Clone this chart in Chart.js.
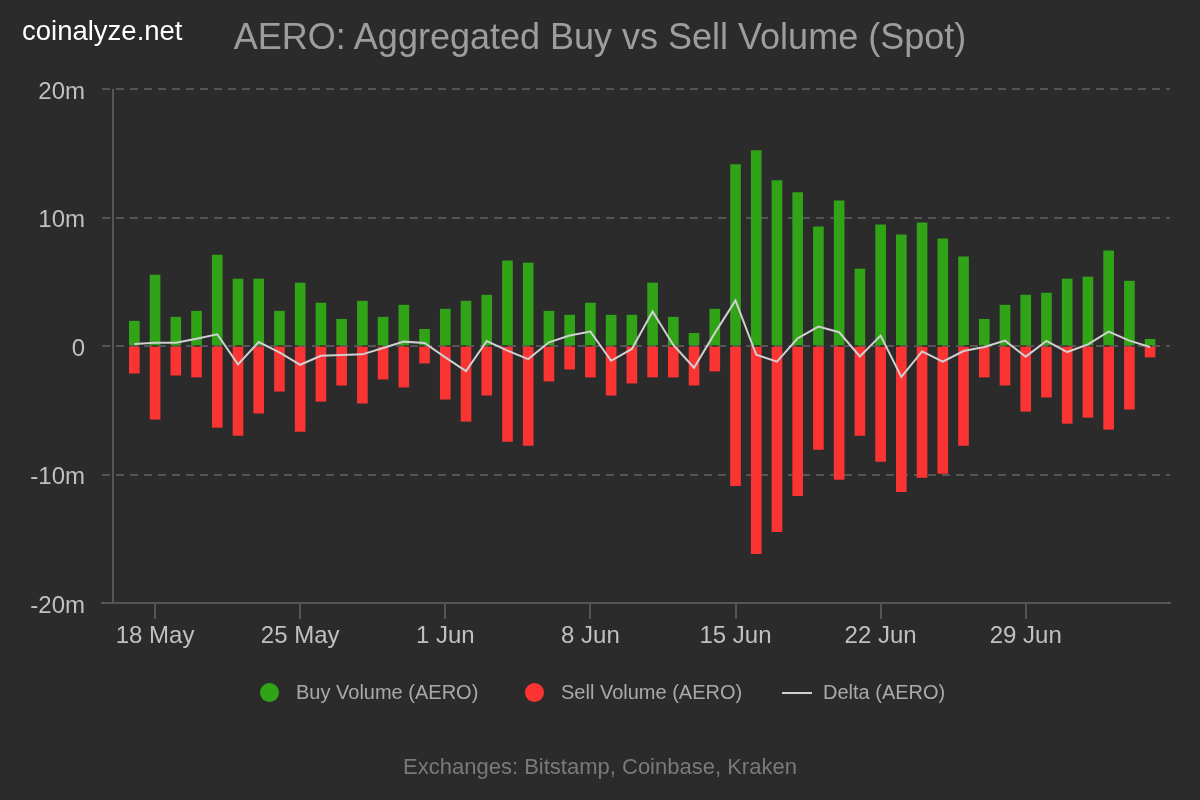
<!DOCTYPE html>
<html>
<head>
<meta charset="utf-8">
<script src="https://cdn.jsdelivr.net/npm/chart.js@4.4.1/dist/chart.umd.min.js"></script>
<style>
  html, body { margin: 0; padding: 0; background: #2b2b2b; }
  #wrap { position: relative; width: 1200px; height: 800px; background: #2b2b2b; overflow: hidden; font-family: "Liberation Sans", Arial, sans-serif; }
  #c { position: absolute; left: 0; top: 0; }
  .txt { position: absolute; white-space: nowrap; }
  #logo { left: 22px; top: 15px; font-size: 27.5px; color: #ffffff; }
  #title { left: 0; width: 1200px; text-align: center; top: 16px; font-size: 36px; color: #9d9d9d; }
  #footer { left: 0; width: 1200px; text-align: center; top: 754px; font-size: 22px; color: #7a7a7a; }
  .leg { position: absolute; top: 680px; font-size: 20px; color: #a9a9a9; line-height: 24px; }
  .dot { position: absolute; width: 19px; height: 19px; border-radius: 50%; top: 683px; }
  .lsym { position: absolute; height: 2px; top: 692px; background: #d0d0d0; }
</style>
</head>
<body>
<div id="wrap">
  <canvas id="c" width="1200" height="800"></canvas>
  <div class="txt" id="logo">coinalyze.net</div>
  <div class="txt" id="title">AERO: Aggregated Buy vs Sell Volume (Spot)</div>
  <div class="dot" style="left:260px;background:#30a316"></div>
  <div class="leg" style="left:296px">Buy Volume (AERO)</div>
  <div class="dot" style="left:525px;background:#fa3333"></div>
  <div class="leg" style="left:561px">Sell Volume (AERO)</div>
  <div class="lsym" style="left:782px;width:30px"></div>
  <div class="leg" style="left:823px">Delta (AERO)</div>
  <div class="txt" id="footer">Exchanges: Bitstamp, Coinbase, Kraken</div>
</div>
<script>
const dates = ['17 May','18 May','19 May','20 May','21 May','22 May','23 May','24 May','25 May','26 May','27 May','28 May','29 May','30 May','31 May',
  '1 Jun','2 Jun','3 Jun','4 Jun','5 Jun','6 Jun','7 Jun','8 Jun','9 Jun','10 Jun','11 Jun','12 Jun','13 Jun','14 Jun','15 Jun','16 Jun','17 Jun','18 Jun','19 Jun','20 Jun',
  '21 Jun','22 Jun','23 Jun','24 Jun','25 Jun','26 Jun','27 Jun','28 Jun','29 Jun','30 Jun','1 Jul','2 Jul','3 Jul','4 Jul','5 Jul'];

const buyVolume = [1.93,5.52,2.24,2.71,7.08,5.21,5.21,2.71,4.90,3.34,2.08,3.49,2.24,3.18,1.30,2.87,
  3.49,3.96,6.62,6.46,2.71,2.40,3.34,2.40,2.40,4.90,2.24,0.99,2.87,
  14.12,15.21,12.87,11.93,9.27,11.30,5.99,9.43,8.65,9.59,8.34,6.93,2.08,3.18,3.96,4.12,5.21,5.37,7.40,5.05,0.52];

const sellVolume = [-2.11,-5.70,-2.27,-2.42,-6.33,-6.95,-5.23,-3.52,-6.64,-4.30,-3.05,-4.45,-2.58,-3.20,-1.33,-4.14,
  -5.86,-3.83,-7.42,-7.73,-2.73,-1.80,-2.42,-3.83,-2.89,-2.42,-2.42,-3.05,-1.95,
  -10.86,-16.17,-14.45,-11.64,-8.05,-10.39,-6.95,-8.98,-11.33,-10.23,-9.92,-7.73,-2.42,-3.05,-5.08,-3.98,-6.02,-5.55,-6.48,-4.92,-0.86];

const deltaVolume = [0.16,0.26,0.26,0.57,0.91,-1.43,0.31,-0.49,-1.46,-0.76,-0.70,-0.65,-0.16,0.34,0.23,-0.89,
  -1.95,0.39,-0.36,-1.02,0.29,0.81,1.12,-1.15,-0.23,2.68,0.08,-1.69,1.00,
  3.54,-0.68,-1.22,0.60,1.51,1.07,-0.81,0.81,-2.40,-0.42,-1.22,-0.39,-0.08,0.42,-0.83,0.39,-0.47,0.13,1.12,0.42,-0.08];

const xTickLabels = ['18 May','25 May','1 Jun','8 Jun','15 Jun','22 Jun','29 Jun'];
const yTickValues = [-20,-10,0,10,20];

const toPts = arr => arr.map((v, i) => ({x: i, y: v}));

const yAxisLine = {
  id: 'yAxisLine',
  beforeDatasetsDraw(chart) {
    const {ctx, chartArea} = chart;
    ctx.save();
    ctx.strokeStyle = '#555555';
    ctx.lineWidth = 2;
    ctx.beginPath();
    ctx.moveTo(chartArea.left + 11, chartArea.top);
    ctx.lineTo(chartArea.left + 11, chartArea.bottom);
    ctx.stroke();
    ctx.restore();
  }
};

new Chart(document.getElementById('c'), {
  type: 'bar',
  data: {
    datasets: [
      { type: 'line', label: 'Delta (AERO)', data: toPts(deltaVolume), borderColor: '#d0d0d0', borderWidth: 2,
        pointRadius: 0, tension: 0, order: 0 },
      { label: 'Buy Volume (AERO)', data: toPts(buyVolume), backgroundColor: '#30a316', barThickness: 10, grouped: false, order: 1 },
      { label: 'Sell Volume (AERO)', data: toPts(sellVolume), backgroundColor: '#fa3333', barThickness: 10, grouped: false, order: 1 }
    ]
  },
  options: {
    responsive: false,
    animation: false,
    layout: { padding: { left: 0, right: 30, top: 89, bottom: 137 } },
    plugins: { legend: { display: false }, title: { display: false }, tooltip: { enabled: false } },
    scales: {
      x: {
        type: 'linear',
        offset: false,
        min: -1.56,
        max: 49.96,
        afterBuildTicks: s => { s.ticks = xTickLabels.map(l => ({ value: dates.indexOf(l) })); },
        afterFit: s => { s.height = 60; },
        ticks: {
          autoSkip: false, maxRotation: 0, padding: 3, color: '#c0c0c0',
          font: { family: 'Liberation Sans', size: 24 },
          callback: v => dates[v]
        },
        grid: { offset: false, drawOnChartArea: false, drawTicks: true, tickLength: 16, color: '#555555', lineWidth: 2 },
        border: { display: true, color: '#555555', width: 2 }
      },
      y: {
        min: -20, max: 20,
        afterBuildTicks: s => { s.ticks = yTickValues.map(v => ({ value: v })); },
        afterFit: s => { s.width = 102; },
        ticks: {
          padding: 17, color: '#c0c0c0', labelOffset: 3,
          font: { family: 'Liberation Sans', size: 24 },
          callback: v => v === 0 ? '0' : v + 'm'
        },
        grid: { drawTicks: false, color: '#555555', lineWidth: 2 },
        border: { display: false, dash: [8, 6] }
      }
    }
  },
  plugins: [yAxisLine]
});
</script>
</body>
</html>
